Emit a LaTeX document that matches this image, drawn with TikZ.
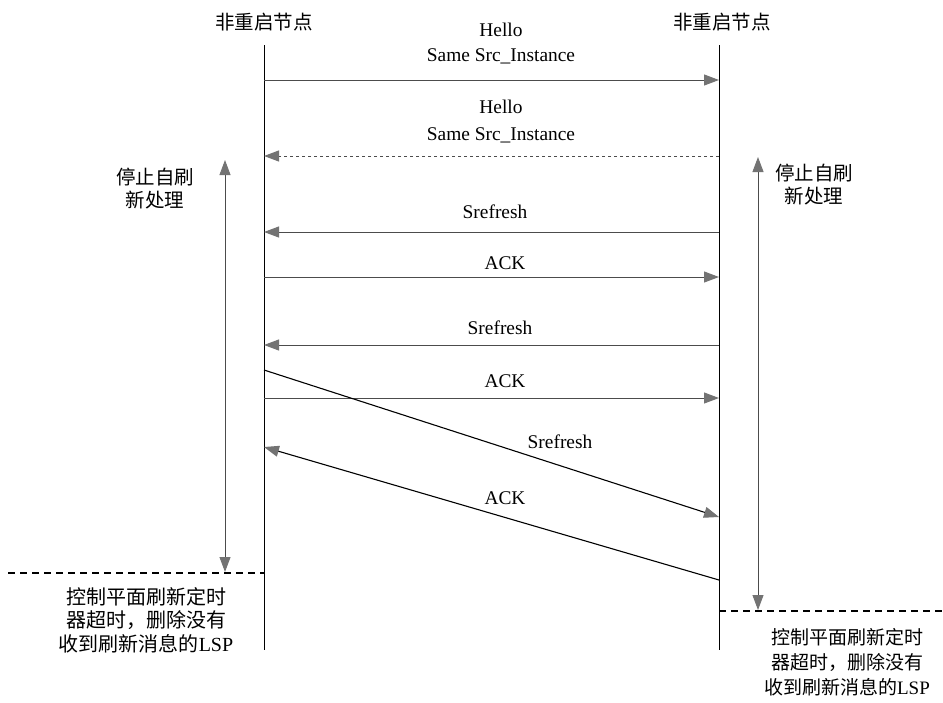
\documentclass[tikz,border=0pt]{standalone}
\usepackage{fontspec}
\setmainfont{Liberation Serif}
\newfontfamily\cjk{Noto Sans CJK SC}
\usetikzlibrary{arrows.meta}
\begin{document}
\begin{tikzpicture}[x=1pt,y=-1pt,
  every node/.style={inner sep=0pt,font=\fontsize{19.4}{24}\selectfont},
  lifeline/.style={draw=black,line width=0.9pt},
  msg/.style={draw=black!70,line width=1pt,-{Triangle[length=15pt,width=11pt,fill=black!55,color=black!55]}},
  diag/.style={draw=black,line width=1.1pt,-{Triangle[length=15pt,width=11pt,fill=black!55,color=black!55]}},
  span/.style={draw=black!70,line width=0.9pt,{Triangle[length=15pt,width=11pt,fill=black!55,color=black!55]}-{Triangle[length=15pt,width=11pt,fill=black!55,color=black!55]}},
  timer/.style={draw=black,line width=1.3pt,dash pattern=on 7pt off 5pt},
  cn/.style={font=\fontsize{19.5}{23}\selectfont\cjk,align=center}]
\useasboundingbox (0,0) rectangle (943,702);
% headers
\node[cn] (LH) at (264,22) {非重启节点};
\node[cn] (RH) at (722,22) {非重启节点};
% lifelines
\coordinate (Lt) at (264,45); \coordinate (Lb) at (264,650);
\coordinate (Rt) at (719,45); \coordinate (Rb) at (719,650);
\draw[lifeline] (Lt) -- (Lb);
\draw[lifeline] (Rt) -- (Rb);
% hello 1
\node (h1a) at (501,30) {Hello};
\node (h1b) at (501,56) {Same Src\_Instance};
\coordinate (a1L) at (264,80); \coordinate (a1R) at (719,80);
\draw[msg] (a1L) -- (a1R);
% hello 2
\node (h2a) at (501,107) {Hello};
\node (h2b) at (501,135) {Same Src\_Instance};
\coordinate (a2L) at (264,156); \coordinate (a2R) at (719,156);
\draw[msg,dashed] (a2R) -- (a2L);
% srefresh / ack
\node (s1) at (495,212) {Srefresh};
\coordinate (a3L) at (264,232); \coordinate (a3R) at (719,232);
\draw[msg] (a3R) -- (a3L);
\node (k1) at (505,263) {ACK};
\coordinate (a4L) at (264,277); \coordinate (a4R) at (719,277);
\draw[msg] (a4L) -- (a4R);
\node (s2) at (500,328) {Srefresh};
\coordinate (a5L) at (264,345); \coordinate (a5R) at (719,345);
\draw[msg] (a5R) -- (a5L);
\node (k2) at (505,381) {ACK};
\coordinate (a6L) at (264,398); \coordinate (a6R) at (719,398);
\draw[msg] (a6L) -- (a6R);
% diagonals
\coordinate (d1L) at (264,370); \coordinate (d1R) at (719,517);
\draw[diag] (d1L) -- (d1R);
\node (s3) at (560,442) {Srefresh};
\coordinate (d2R) at (719,580); \coordinate (d2L) at (264,447);
\draw[diag] (d2R) -- (d2L);
\node (k3) at (505,498) {ACK};
% stop refresh spans
\node[cn] (LS) at (155,189) {停止自刷\\新处理};
\coordinate (sLt) at (225,160); \coordinate (sLb) at (225,572);
\draw[span] (sLb) -- (sLt);
\node[cn] (RS) at (814,185) {停止自刷\\新处理};
\coordinate (sRt) at (758,157); \coordinate (sRb) at (758,610);
\draw[span] (sRb) -- (sRt);
% timers
\coordinate (tL0) at (8,573); \coordinate (tL1) at (264,573);
\draw[timer] (tL0) -- (tL1);
\coordinate (tR0) at (719,611); \coordinate (tR1) at (943,611);
\draw[timer] (tR0) -- (tR1);
\node[cn,font=\fontsize{20}{23.5}\selectfont\cjk] (LT) at (146,620) {控制平面刷新定时\\器超时，删除没有\\收到刷新消息的{\rmfamily LSP}};
\node[cn,font=\fontsize{19}{25}\selectfont\cjk] (RT) at (847,662) {控制平面刷新定时\\器超时，删除没有\\收到刷新消息的{\rmfamily LSP}};
\end{tikzpicture}
\end{document}
